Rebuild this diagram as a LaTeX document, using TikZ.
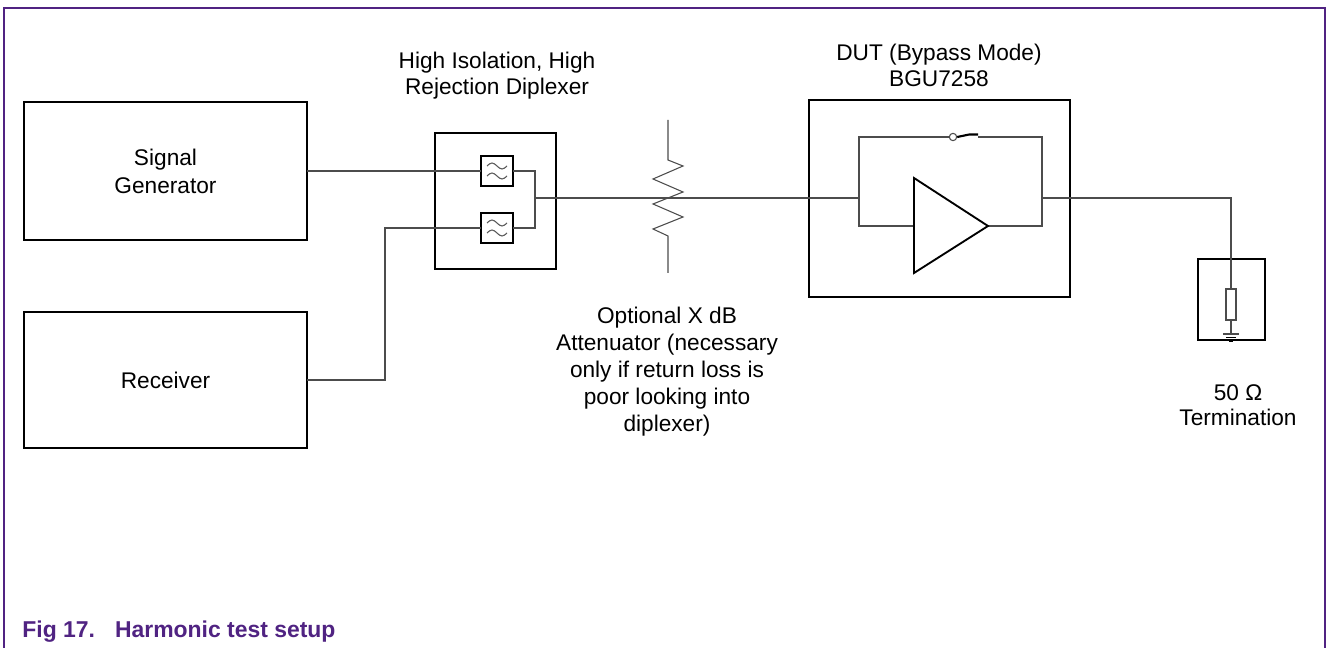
\documentclass[tikz,border=0pt]{standalone}
\usepackage{fontspec}
\setmainfont{Liberation Sans}
\usetikzlibrary{positioning, calc}
\definecolor{nxppurple}{RGB}{80,35,130}

\begin{document}
\begin{tikzpicture}
            [x=0.75pt, y=-0.75pt, semithick,
            every node/.style={font=\fontsize{17}{19}\selectfont},
            block/.style={rectangle, draw=black, line width=2.2pt, align=center, inner sep=0pt, outer sep=0pt},
            filterbox/.style={rectangle, draw=black, line width=1.4pt, minimum width=24pt, minimum height=22.5pt, inner sep=0pt, outer sep=0pt},
            wire/.style={draw=black!70, line width=0.8pt},
            wavy/.style={draw=black!65, line width=0.8pt},
            label/.style={align=center, inner sep=0pt}]

            % frame
            \useasboundingbox (0,0) rectangle (1331,648);
            \draw[nxppurple, line width=1.6pt] (4,648) -- (4,8) -- (1325,8) -- (1325,648);

            % blocks
            \node[block, minimum width=212.25pt, minimum height=103.5pt,
                  font=\fontsize{17}{21}\selectfont] (siggen) at (165.5,171) {Signal\\Generator};
            \node[block, minimum width=212.25pt, minimum height=102pt] (receiver) at (165.5,380) {Receiver};
            \node[block, minimum width=90.75pt, minimum height=102pt] (diplexer) at (495.5,201) {};
            \node[filterbox] (fhigh) at (497,171) {};
            \node[filterbox] (flow) at (497,228) {};
            \node[block, minimum width=195.75pt, minimum height=147.75pt] (dut) at (939.5,198.5) {};
            \node[block, minimum width=50.25pt, minimum height=60.75pt] (term) at (1231.5,299.5) {};
            \node[rectangle, draw=black!70, line width=0.8pt, fill=white, minimum width=7.5pt,
                  minimum height=23.25pt, inner sep=0pt, outer sep=0pt] (termres) at (1231,304.5) {};

            % filter symbols
            \foreach \f in {fhigh,flow} {
              \foreach \dy in {-5,5}
                \draw[wavy] ([shift={(-10,\dy)}]\f.center) sin ++(5,-3) cos ++(5,3)
                            sin ++(5,3) cos ++(5,-3);
            }

            % points
            \coordinate (rxbend) at (385,380);
            \coordinate (join) at (535,198);
            \coordinate (att) at (668,198);
            \coordinate (dutin) at (859,198);
            \coordinate (dutout) at (1042,198);
            \coordinate (ampin) at (914,226);
            \coordinate (amptop) at (914,178);
            \coordinate (ampbot) at (914,273);
            \coordinate (amptip) at (988,226);
            \coordinate (swb) at (978,137);
            \coordinate (gnd) at (1231,334);
            \node[circle, draw=black!70, line width=0.8pt, fill=white, inner sep=0pt,
                  minimum size=5.5pt] (swa) at (953,137) {};

            % wiring
            \draw[wire] (siggen) -- (fhigh);
            \draw[wire] (receiver.east) -- (rxbend) |- (flow.west);
            \draw[wire] (fhigh.east) -| (join) |- (flow.east);
            \draw[wire] (join) -- (dutin);
            \draw[wire] (ampin) -| (dutin) |- (swa.west);
            \draw[wire] (swb) -| (dutout) |- (amptip);
            \draw[black, line width=1.6pt] (swa.east) -- ++(12,-2.5) -- (978,134.5);
            \draw[wire] (dutout) -| (termres.north);
            \draw[wire] (termres.south) -- (gnd);
            \draw[wire] (1223,334) -- (1239,334);
            \draw[black, line width=0.8pt] (1226,337.5) -- (1236,337.5);
            \draw[black, line width=0.6pt] (1229,341) -- (1233,341);

            % attenuator
            \draw[wire] (668,120) -- (668,160) -- (683,166) -- (653,179) -- (683,192)
                        -- (653,204) -- (683,217) -- (653,229) -- (668,236) -- (668,273);

            % amplifier
            \draw[black, line width=1.4pt, line join=miter] (amptop) -- (amptip) -- (ampbot) -- cycle;

            % labels
            \node[label] (diplabel) at (497,75.5) {High Isolation, High\\Rejection Diplexer};
            \node[label] (dutlabel) at (939,65.5) {DUT (Bypass Mode)\\BGU7258};
            \node[label, font=\fontsize{17}{20.3}\selectfont] (attlabel) at (667,372)
                 {Optional X dB\\Attenuator (necessary\\only if return loss is\\poor looking into\\diplexer)};
            \node[label] (termlabel) at (1238,405.5) {50 Ω\\Termination};
            \node[anchor=west, inner sep=0pt, text=nxppurple, font=\bfseries\fontsize{17.2}{19}\selectfont]
                 (caption) at (22,632) {Fig 17.\hspace{15pt}Harmonic test setup};

          \end{tikzpicture}
\end{document}
